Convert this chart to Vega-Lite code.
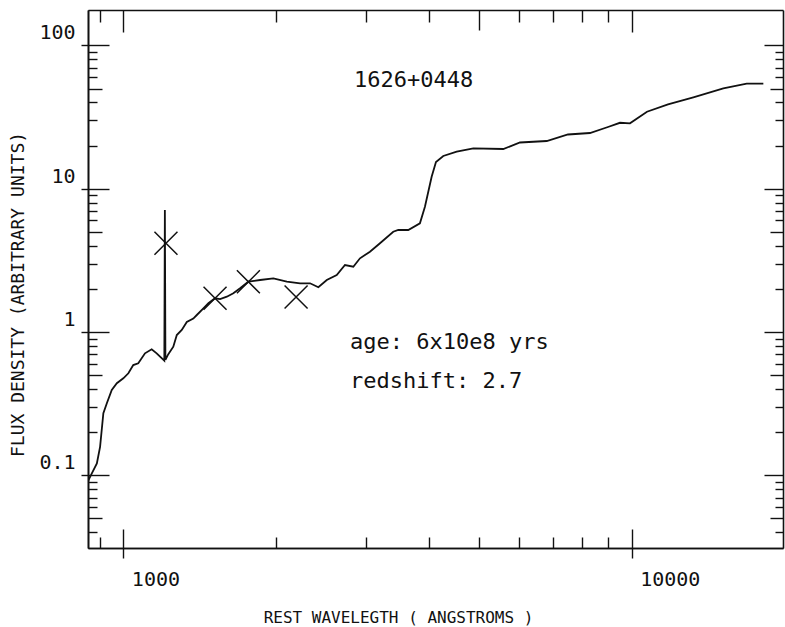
{
  "$schema": "https://vega.github.io/schema/vega-lite/v6.json",
  "width": 695,
  "height": 538,
  "autosize": {"type": "none"},
  "padding": {"left": 88, "top": 10, "right": 2, "bottom": 79},
  "background": "white",
  "config": {
    "view": {"stroke": null},
    "axis": {"domainColor": "#111", "domainWidth": 1.6, "tickColor": "#111", "tickWidth": 1.4, "grid": false, "labelColor": "#111", "titleColor": "#111", "labelFont": "DejaVu Sans Mono", "titleFont": "DejaVu Sans Mono", "titleFontWeight": "normal"}
  },
  "datasets": {
    "spectrum": [
      {"wavelength": 852, "flux": 0.091},
      {"wavelength": 867, "flux": 0.103},
      {"wavelength": 887, "flux": 0.121},
      {"wavelength": 900, "flux": 0.158},
      {"wavelength": 913.5, "flux": 0.271},
      {"wavelength": 928, "flux": 0.318},
      {"wavelength": 949, "flux": 0.394},
      {"wavelength": 971, "flux": 0.439},
      {"wavelength": 1000, "flux": 0.475},
      {"wavelength": 1023, "flux": 0.515},
      {"wavelength": 1046, "flux": 0.588},
      {"wavelength": 1070, "flux": 0.605},
      {"wavelength": 1103, "flux": 0.71},
      {"wavelength": 1137, "flux": 0.757},
      {"wavelength": 1163, "flux": 0.71},
      {"wavelength": 1204, "flux": 0.631},
      {"wavelength": 1207, "flux": 7.1},
      {"wavelength": 1210, "flux": 0.64},
      {"wavelength": 1226, "flux": 0.70},
      {"wavelength": 1254, "flux": 0.79},
      {"wavelength": 1274, "flux": 0.953},
      {"wavelength": 1303, "flux": 1.033},
      {"wavelength": 1333, "flux": 1.174},
      {"wavelength": 1373, "flux": 1.242},
      {"wavelength": 1395, "flux": 1.314},
      {"wavelength": 1437, "flux": 1.463},
      {"wavelength": 1470, "flux": 1.586},
      {"wavelength": 1515, "flux": 1.719},
      {"wavelength": 1550, "flux": 1.699},
      {"wavelength": 1598, "flux": 1.764},
      {"wavelength": 1646, "flux": 1.862},
      {"wavelength": 1697, "flux": 2.018},
      {"wavelength": 1762, "flux": 2.244},
      {"wavelength": 1858, "flux": 2.306},
      {"wavelength": 1973, "flux": 2.37},
      {"wavelength": 2097, "flux": 2.244},
      {"wavelength": 2227, "flux": 2.187},
      {"wavelength": 2330, "flux": 2.187},
      {"wavelength": 2419, "flux": 2.051},
      {"wavelength": 2513, "flux": 2.306},
      {"wavelength": 2629, "flux": 2.499},
      {"wavelength": 2729, "flux": 2.935},
      {"wavelength": 2834, "flux": 2.856},
      {"wavelength": 2921, "flux": 3.268},
      {"wavelength": 3056, "flux": 3.634},
      {"wavelength": 3198, "flux": 4.159},
      {"wavelength": 3396, "flux": 5.011},
      {"wavelength": 3474, "flux": 5.15},
      {"wavelength": 3635, "flux": 5.15},
      {"wavelength": 3832, "flux": 5.735},
      {"wavelength": 3920, "flux": 7.488},
      {"wavelength": 4041, "flux": 12.13},
      {"wavelength": 4121, "flux": 15.36},
      {"wavelength": 4260, "flux": 16.91},
      {"wavelength": 4527, "flux": 18.12},
      {"wavelength": 4881, "flux": 19.13},
      {"wavelength": 5590, "flux": 18.92},
      {"wavelength": 6030, "flux": 21.01},
      {"wavelength": 6806, "flux": 21.52},
      {"wavelength": 7493, "flux": 23.89},
      {"wavelength": 8278, "flux": 24.47},
      {"wavelength": 8982, "flux": 26.95},
      {"wavelength": 9484, "flux": 28.84},
      {"wavelength": 9923, "flux": 28.6},
      {"wavelength": 10718, "flux": 34.45},
      {"wavelength": 11788, "flux": 38.7},
      {"wavelength": 13222, "flux": 43.43},
      {"wavelength": 15145, "flux": 50.19},
      {"wavelength": 16838, "flux": 54.05},
      {"wavelength": 18155, "flux": 54.05}
    ],
    "crosses": [
      {"wavelength": 1213, "flux": 4.16},
      {"wavelength": 1515, "flux": 1.72},
      {"wavelength": 1762, "flux": 2.24},
      {"wavelength": 2187, "flux": 1.755}
    ],
    "labels": [
      {"wavelength": 2843, "flux": 57.3, "text": "1626+0448"},
      {"wavelength": 2792, "flux": 0.852, "text": "age: 6x10e8 yrs"},
      {"wavelength": 2792, "flux": 0.455, "text": "redshift: 2.7"}
    ]
  },
  "resolve": {"axis": {"x": "independent", "y": "independent"}},
  "layer": [
    {
      "data": {"name": "spectrum"},
      "mark": {"type": "line", "color": "#111", "strokeWidth": 1.8, "clip": true},
      "encoding": {
        "x": {"field": "wavelength", "type": "quantitative",
          "scale": {"type": "log", "domain": [852.1, 19846], "nice": false, "zero": false},
          "axis": {"orient": "bottom", "labels": false, "title": null,
            "values": [900, 1000, 2000, 3000, 4000, 5000, 6000, 7000, 8000, 9000, 10000],
            "tickSize": {"condition": {"test": "datum.value == 1000 || datum.value == 10000", "value": -19}, "value": -11}}},
        "y": {"field": "flux", "type": "quantitative",
          "scale": {"type": "log", "domain": [0.0311, 176.6], "nice": false, "zero": false},
          "axis": {"orient": "left", "labels": false, "title": null,
            "values": [0.04, 0.05, 0.06, 0.07, 0.08, 0.09, 0.1, 0.2, 0.3, 0.4, 0.5, 0.6, 0.7, 0.8, 0.9, 1, 2, 3, 4, 5, 6, 7, 8, 9, 10, 20, 30, 40, 50, 60, 70, 80, 90, 100],
            "tickSize": {"condition": [
              {"test": "datum.value == 0.1 || datum.value == 1 || datum.value == 10 || datum.value == 100", "value": -21},
              {"test": "datum.value == 0.05 || datum.value == 0.5 || datum.value == 5 || datum.value == 50", "value": -14}
            ], "value": -9}}}
      }
    },
    {
      "data": {"name": "crosses"},
      "mark": {"type": "point", "shape": "M-1,-1L1,1M-1,1L1,-1", "size": 529, "filled": false, "stroke": "#111", "strokeWidth": 1.5, "opacity": 1},
      "encoding": {
        "x": {"field": "wavelength", "type": "quantitative",
          "scale": {"type": "log", "domain": [852.1, 19846], "nice": false, "zero": false},
          "axis": {"orient": "bottom", "values": [1000, 10000], "format": "~g", "tickSize": 10,
            "labelFontSize": 20, "labelAlign": "left", "labelOffset": 8, "labelPadding": 11, "labelBaseline": "top",
            "title": "REST WAVELEGTH ( ANGSTROMS )", "titleFontSize": 16, "titleX": 310, "titleY": 69,
            "titleAlign": "center", "titleBaseline": "middle", "domain": true}},
        "y": {"field": "flux", "type": "quantitative",
          "scale": {"type": "log", "domain": [0.0311, 176.6], "nice": false, "zero": false},
          "axis": {"orient": "left", "values": [0.1, 1, 10, 100], "format": "~g", "tickSize": 7,
            "labelFontSize": 20, "labelOffset": -12.5, "labelPadding": 6, "labelBaseline": "middle",
            "title": "FLUX DENSITY (ARBITRARY UNITS)", "titleFontSize": 18, "titleX": -70, "titleY": 284,
            "titleAngle": 270, "titleAlign": "center", "titleBaseline": "middle"}}
      }
    },
    {
      "data": {"name": "labels"},
      "mark": {"type": "text", "align": "left", "baseline": "middle", "font": "DejaVu Sans Mono", "fontSize": 22, "color": "#111"},
      "encoding": {
        "x": {"field": "wavelength", "type": "quantitative",
          "scale": {"type": "log", "domain": [852.1, 19846], "nice": false, "zero": false},
          "axis": {"orient": "top", "labels": false, "title": null,
            "values": [900, 1000, 2000, 3000, 4000, 5000, 6000, 7000, 8000, 9000, 10000],
            "tickSize": {"condition": [
              {"test": "datum.value == 1000 || datum.value == 10000", "value": -22},
              {"test": "datum.value == 5000", "value": -20}
            ], "value": -12}}},
        "y": {"field": "flux", "type": "quantitative",
          "scale": {"type": "log", "domain": [0.0311, 176.6], "nice": false, "zero": false},
          "axis": {"orient": "right", "labels": false, "title": null,
            "values": [0.04, 0.05, 0.06, 0.07, 0.08, 0.09, 0.1, 0.2, 0.3, 0.4, 0.5, 0.6, 0.7, 0.8, 0.9, 1, 2, 3, 4, 5, 6, 7, 8, 9, 10, 20, 30, 40, 50, 60, 70, 80, 90, 100],
            "tickSize": {"condition": [
              {"test": "datum.value == 0.1 || datum.value == 1 || datum.value == 10 || datum.value == 100", "value": -19},
              {"test": "datum.value == 0.05 || datum.value == 0.5 || datum.value == 5 || datum.value == 50", "value": -13}
            ], "value": -8}}},
        "text": {"field": "text", "type": "nominal"}
      }
    }
  ]
}
